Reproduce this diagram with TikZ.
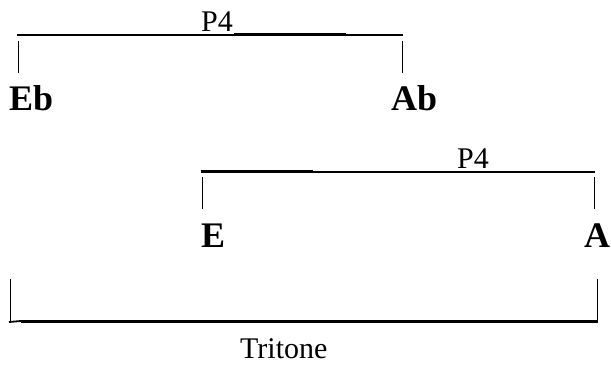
\documentclass[tikz,border=0pt]{standalone}
\usepackage{fontspec}
\setmainfont{Liberation Serif}
\begin{document}
\begin{tikzpicture}[x=1pt,y=-1pt,
  note/.style={font=\fontsize{30}{33}\selectfont,inner sep=0pt,anchor=base west},
  pitch/.style={font=\fontsize{36}{40}\selectfont\bfseries,inner sep=0pt,anchor=base west},
  bar/.style={line width=1.8pt,black},
  under/.style={line width=3pt,black},
  tick/.style={line width=0.8pt,black}]
\useasboundingbox (0,0) rectangle (611,367);
% top interval Eb - Ab
\node[note] (p4a) at (201,31) {P4};
\coordinate (t1l) at (17,35);
\coordinate (t1r) at (403,35);
\coordinate (u1l) at (234,34);
\coordinate (u1r) at (346,34);
\draw[bar] (t1l) -- (t1r);
\draw[under] (u1l) -- (u1r);
\coordinate (k1a) at (18,41); \coordinate (k1b) at (18,73);
\coordinate (k2a) at (402,41); \coordinate (k2b) at (402,73);
\draw[tick] (k1a) -- (k1b);
\draw[tick] (k2a) -- (k2b);
\node[pitch] (eb) at (9,110) {Eb};
\node[pitch] (ab) at (391,110) {Ab};
% second interval E - A
\node[note] (p4b) at (457,168) {P4};
\coordinate (t2l) at (201,172);
\coordinate (t2r) at (595,172);
\coordinate (u2l) at (201,171);
\coordinate (u2r) at (313,171);
\draw[bar] (t2l) -- (t2r);
\draw[under] (u2l) -- (u2r);
\coordinate (k3a) at (202,177); \coordinate (k3b) at (202,209);
\coordinate (k4a) at (594,177); \coordinate (k4b) at (594,209);
\draw[tick] (k3a) -- (k3b);
\draw[tick] (k4a) -- (k4b);
\node[pitch] (e) at (201,247) {E};
\node[pitch] (a) at (584,247) {A};
% tritone
\coordinate (b0l) at (9,322);
\coordinate (b1l) at (21,321);
\coordinate (b1r) at (598,321);
\draw[bar] (b0l) -- (b1l);
\draw[under] (b1l) -- (b1r);
\coordinate (k5a) at (10,279); \coordinate (k5b) at (10,322);
\coordinate (k6a) at (597,279); \coordinate (k6b) at (597,322);
\draw[tick] (k5a) -- (k5b);
\draw[tick] (k6a) -- (k6b);
\node[note] (tri) at (240,358) {Tritone};
\end{tikzpicture}
\end{document}
